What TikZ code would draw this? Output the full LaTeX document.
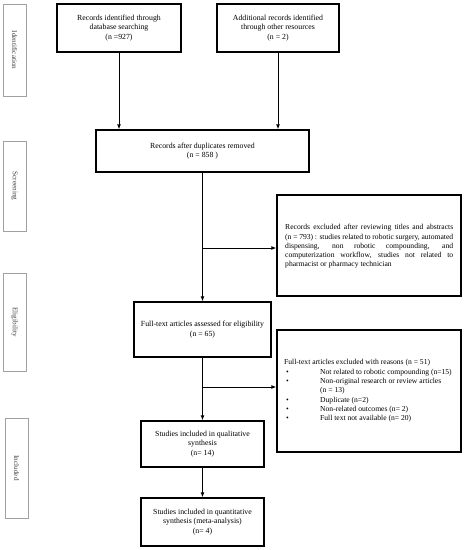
\documentclass[tikz,border=0pt]{standalone}
\usepackage{fontspec}
\setmainfont{Liberation Serif}
\usetikzlibrary{arrows.meta}
\definecolor{phasegray}{HTML}{A0A0A0}
\definecolor{phasetext}{HTML}{404040}
\newcommand{\jline}[1]{\makebox[168pt][s]{#1}}
\newcommand{\bul}{\makebox[36pt][l]{\hspace{2pt}•}}
\begin{document}
\begin{tikzpicture}[x=1pt,y=-1pt,
  mainbox/.style={draw=black, line width=1.3pt, align=center, inner sep=2pt,
    font=\fontsize{7.8}{9.3}\selectfont},
  exbox/.style={draw=black, line width=1.3pt, inner sep=0pt},
  extext/.style={align=left, inner sep=0pt, font=\fontsize{7.6}{9.3}\selectfont},
  phasebox/.style={draw=phasegray, line width=0.9pt, minimum width=23pt, inner sep=0pt},
  phaselabel/.style={rotate=-90, text=phasetext, font=\fontsize{7.2}{8}\selectfont},
  conn/.style={line width=1pt},
  arr/.style={conn, -{Latex[length=5pt,width=4pt]}}
]
\useasboundingbox (0,0) rectangle (465,550);

% phase boxes
\node[phasebox, minimum height=92pt] (pid) at (14.5,50) {};
\node[phaselabel] (pidl) at (pid.center) {Identification};
\node[phasebox, minimum height=90pt] (psc) at (14.5,186) {};
\node[phaselabel] (pscl) at (psc.center) {Screening};
\node[phasebox, minimum height=98pt] (pel) at (14.5,322) {};
\node[phaselabel] (pell) at (pel.center) {Eligibility};
\node[phasebox, minimum height=100pt] (pin) at (16.5,468) {};
\node[phaselabel] (pinl) at (pin.center) {Included};

% main boxes
\node[mainbox, minimum width=124pt, minimum height=48pt] (b1) at (119,28)
  {Records identified through\\ database searching\\ (n =927)};
\node[mainbox, minimum width=122pt, minimum height=48pt] (b2) at (278,28)
  {Additional records identified\\ through other resources\\ (n = 2)};
\node[mainbox, minimum width=213pt, minimum height=42pt] (b3) at (202.5,151)
  {Records after duplicates removed\\ (n = 858 )};
\node[mainbox, minimum width=137pt, minimum height=55pt] (b4) at (202.5,329.5)
  {Full-text articles assessed for eligibility\\ (n = 65)};
\node[mainbox, minimum width=123pt, minimum height=46pt] (b5) at (202.5,444)
  {Studies included in qualitative\\ synthesis\\ (n= 14)};
\node[mainbox, minimum width=123pt, minimum height=48pt] (b6) at (202.5,522)
  {Studies included in quantitative\\ synthesis (meta-analysis)\\ (n= 4)};

% exclusion boxes
\node[exbox, minimum width=184pt, minimum height=101pt] (e1) at (369,245.5) {};
\node[extext, anchor=west] (e1t) at (285,246.5)
  {\jline{Records excluded after reviewing titles and abstracts}\\
   \jline{(n = 793) : studies related to robotic surgery, automated}\\
   \jline{dispensing, non robotic compounding, and}\\
   \jline{computerization workflow, studies not related to}\\
   pharmacist or pharmacy technician};

\node[exbox, minimum width=184pt, minimum height=122pt] (e2) at (369,391) {};
\node[extext, anchor=west] (e2t) at (284,391)
  {Full-text articles excluded with reasons (n = 51)\\
   \bul Not related to robotic compounding (n=15)\\
   \bul Non-original research or review articles\\
   \hspace*{36pt}(n = 13)\\
   \bul Duplicate (n=2)\\
   \bul Non-related outcomes (n= 2)\\
   \bul Full text not available (n= 20)};

% connectors
\draw[arr] (b1.south) -- (b1.south |- b3.north);
\draw[arr] (b2.south) -- (b2.south |- b3.north);
\draw[arr] (b3.south) -- (b4.north);
\coordinate (j1) at (b3.south |- 0,248);
\draw[arr] (j1) -- (j1 -| e1.west);
\draw[arr] (b4.south) -- (b5.north);
\coordinate (j2) at (b4.south |- 0,387);
\draw[arr] (j2) -- (j2 -| e2.west);
\draw[arr] (b5.south) -- (b6.north);
\end{tikzpicture}
\end{document}
